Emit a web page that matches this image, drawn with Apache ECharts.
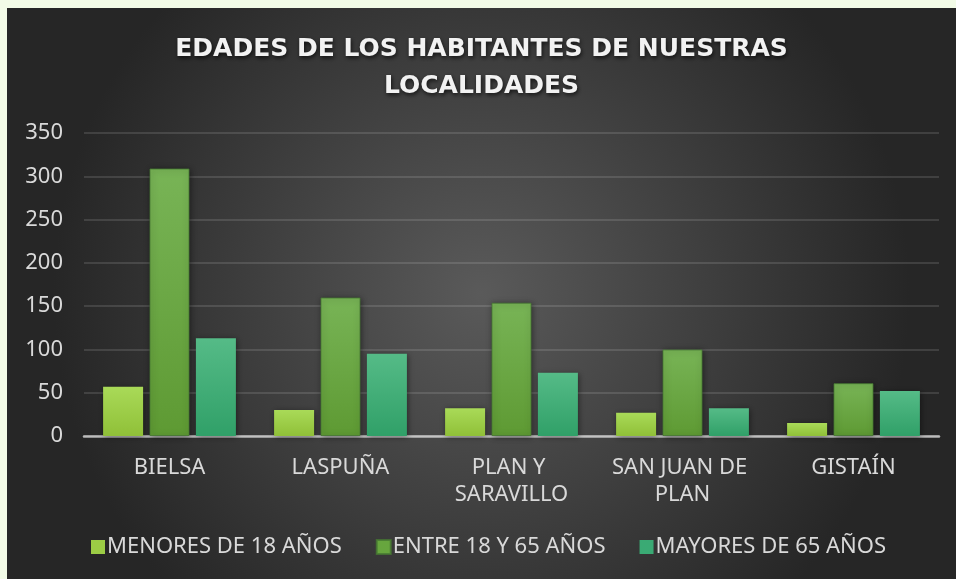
<!DOCTYPE html>
<html>
<head>
<meta charset="utf-8">
<script src="https://cdn.jsdelivr.net/npm/echarts@6/dist/echarts.min.js"></script>
<style>
html,body{margin:0;padding:0;background:#F2FBE7;width:956px;height:579px;overflow:hidden;}
#chart{position:absolute;left:7px;top:8px;width:949px;height:571px;}
</style>
</head>
<body>
<div id="chart"></div>
<script>
const titleText = 'EDADES DE LOS HABITANTES DE NUESTRAS\nLOCALIDADES';
const categories = ['BIELSA', 'LASPUÑA', 'PLAN Y SARAVILLO', 'SAN JUAN DE PLAN', 'GISTAÍN'];
const seriesNames = ['MENORES DE 18 AÑOS', 'ENTRE 18 Y 65 AÑOS', 'MAYORES DE 65 AÑOS'];
const menores = [57, 30, 32, 27, 15];
const entre = [309, 160, 154, 100, 61];
const mayores = [113, 95, 73, 32, 52];
const yTicks = [0, 50, 100, 150, 200, 250, 300, 350];

const grads = [
  ['#a9da58', '#90c038'],
  ['#78b456', '#5e9a33'],
  ['#55bb87', '#30a068']
];
function grad(c){
  return new echarts.graphic.LinearGradient(0,0,0,1,[{offset:0,color:c[0]},{offset:1,color:c[1]}]);
}
const legendColors = ['#9ccc45', '#67a63e', '#3aaa74'];
const font = '"Noto Sans", "DejaVu Sans", sans-serif';

const chart = echarts.init(document.getElementById('chart'), null, {renderer:'canvas'});
const dataSets = [menores, entre, mayores];
chart.setOption({
  backgroundColor: {
    type:'radial', x:0.5, y:0.5, r:0.75,
    colorStops:[{offset:0,color:'#5a5a5a'},{offset:1,color:'#262626'}]
  },
  animation:false,
  title:{
    text:titleText,
    left:'center',
    top:18,
    textStyle:{
      fontFamily:'"DejaVu Sans", sans-serif',
      fontWeight:'bold',
      fontSize:25,
      lineHeight:37,
      color:'#f2f2f2',
      textShadowColor:'rgba(0,0,0,0.7)',
      textShadowBlur:4,
      textShadowOffsetX:1,
      textShadowOffsetY:2
    }
  },
  legend:{
    data:seriesNames.map((n,i)=>({name:n,itemStyle:{color:legendColors[i]}})),
    bottom:16,
    left:79,
    itemWidth:14,
    itemHeight:14,
    itemGap:34,
    icon:'rect',
    textStyle:{color:'#d9d9d9',fontSize:22,fontFamily:font,padding:[0,0,0,-3]}
  },
  grid:{left:77,right:17,top:125,bottom:143,containLabel:false},
  xAxis:{
    type:'category',
    data:categories,
    axisLine:{lineStyle:{color:'rgba(230,230,230,0.75)',width:2.5}},
    axisTick:{show:false},
    axisLabel:{
      interval:0,
      color:'#d9d9d9',
      fontSize:22,
      fontFamily:font,
      lineHeight:27,
      margin:18,
      width:150,
      overflow:'break'
    }
  },
  yAxis:{
    type:'value',
    min:yTicks[0],
    max:yTicks[yTicks.length-1],
    interval:yTicks[1]-yTicks[0],
    axisLine:{show:false},
    axisTick:{show:false},
    splitLine:{lineStyle:{color:'rgba(255,255,255,0.12)',width:2}},
    axisLabel:{color:'#d9d9d9',fontSize:22,fontFamily:font,margin:21}
  },
  series:seriesNames.map((n,i)=>({
    name:n,
    type:'bar',
    data:dataSets[i],
    barWidth:40,
    barGap:'16%',
    itemStyle:{
      color:grad(grads[i]),
      borderColor:i===1?'rgba(70,120,50,0.8)':'transparent',
      borderWidth:i===1?1:0,
      shadowColor:'rgba(0,0,0,0.45)',
      shadowBlur:6,
      shadowOffsetX:1,
      shadowOffsetY:1
    }
  }))
});
</script>
</body>
</html>
